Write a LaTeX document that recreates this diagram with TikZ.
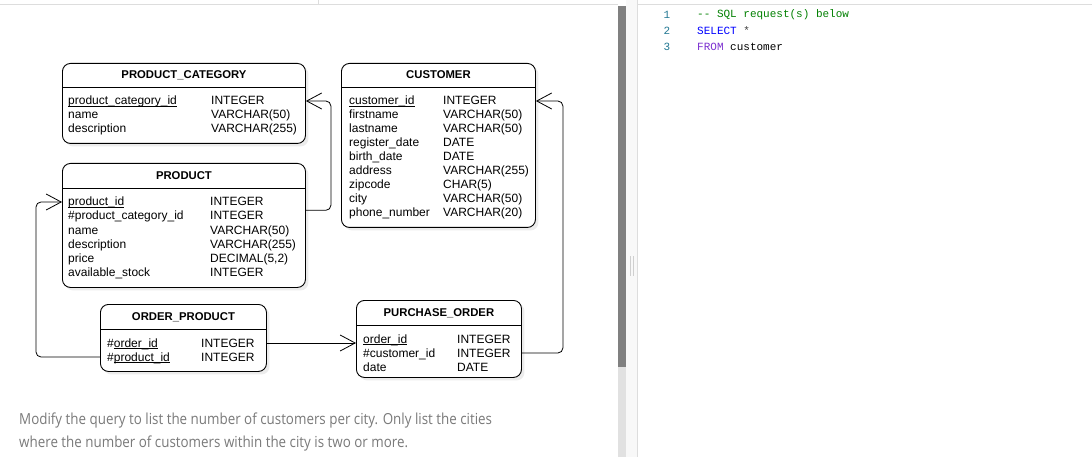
\documentclass[tikz,border=0pt]{standalone}
\usepackage{fontspec}
\setmainfont{Liberation Sans}
\setmonofont{Liberation Mono}
\newfontfamily\opensans[FakeStretch=0.88]{Open Sans}
\usepackage{xcolor}
\usetikzlibrary{arrows.meta,positioning,shadows}

\definecolor{rulegray}{HTML}{DDDDDD}
\definecolor{bardark}{HTML}{808080}
\definecolor{barlight}{HTML}{E1E1E1}
\definecolor{panelgray}{HTML}{F8F8F8}
\definecolor{gripgray}{HTML}{CFCFCF}
\definecolor{sqlcomment}{HTML}{008000}
\definecolor{sqlkw}{HTML}{0000FF}
\definecolor{sqlfrom}{HTML}{7B2FD0}
\definecolor{linenum}{HTML}{237893}
\definecolor{prompttext}{HTML}{7A7A7A}

% key underline close to the baseline
\newcommand\keyul[1]{\setbox0\hbox{#1}\rlap{\rule[-1.7pt]{\wd0}{0.7pt}}\box0}

\begin{document}
\begin{tikzpicture}[
  x=1pt, y=-1pt,
  tbl/.style={draw=black, line width=0.9pt, rounded corners=8pt, fill=white,
              anchor=north west, inner sep=0pt,
              drop shadow={shadow xshift=3pt, shadow yshift=-3pt, opacity=0.15}},
  ttl/.style={font=\fontsize{11.3}{13}\selectfont\bfseries, inner sep=0pt},
  fld/.style={font=\fontsize{12}{14}\selectfont, anchor=west, inner sep=0pt,
              text height=9.5pt, text depth=1.5pt},
  hdr/.style={line width=0.8pt},
  fk/.style={-{Straight Barb[length=15pt,width=16pt]}, line width=0.8pt,
             rounded corners=5pt},
  code/.style={font=\fontsize{11}{13}\selectfont\ttfamily, anchor=west, inner sep=0pt},
  lnum/.style={font=\fontsize{11}{13}\selectfont\ttfamily, text=linenum, inner sep=0pt},
  prompt/.style={font=\opensans\fontsize{15.2}{18}\selectfont, text=prompttext,
                 anchor=west, inner sep=0pt, text height=11pt, text depth=3pt}
]
\useasboundingbox[fill=white] (0,0) rectangle (1092,457);

% window chrome
\draw[rulegray, line width=1pt] (0,5) -- (618,5);
\draw[rulegray, line width=1pt] (637,5) -- (1092,5);
\draw[rulegray, line width=0.8pt] (318,0) -- (318,5);
\fill[bardark] (618,6) rectangle (626,367);
\fill[barlight] (618,367) rectangle (626,457);
\fill[panelgray] (626,0) rectangle (637,457);
\draw[rulegray, line width=0.6pt] (637,0) -- (637,457);
\draw[gripgray, line width=0.6pt] (630,256) -- (630,276);
\draw[gripgray, line width=0.6pt] (633,256) -- (633,276);

% sql editor
\node[lnum] (ln1) at (667,15) {1};
\node[lnum] (ln2) at (667,31) {2};
\node[lnum] (ln3) at (667,47) {3};
\node[code, text=sqlcomment] (sql1) at (697,15) {-{}- SQL request(s) below};
\node[code] (sql2) at (697,31) {\textcolor{sqlkw}{SELECT} \textcolor{black!75}{*}};
\node[code] (sql3) at (697,47) {\textcolor{sqlfrom}{FROM} customer};

% PRODUCT_CATEGORY
\node[tbl, minimum width=243pt, minimum height=80pt] (pcat) at (62,63) {};
\node[ttl] (pcat-t) at (pcat.north |- 0,75) {PRODUCT\_CATEGORY};
\draw[hdr] (pcat.west |- 0,87) -- (pcat.east |- 0,87);
\foreach \n/\t [count=\i] in {\keyul{product\_category\_id}/INTEGER,
    name/VARCHAR(50), description/VARCHAR(255)}
  {\node[fld] (pc-n\i) at (68,87+14*\i) {\n};
   \node[fld] (pc-t\i) at (211,87+14*\i) {\t};}

% CUSTOMER
\node[tbl, minimum width=194pt, minimum height=164pt] (cust) at (341,63) {};
\node[ttl] (cust-t) at (cust.north |- 0,75) {CUSTOMER};
\draw[hdr] (cust.west |- 0,87) -- (cust.east |- 0,87);
\foreach \n/\t [count=\i] in {\keyul{customer\_id}/INTEGER,
    firstname/VARCHAR(50), lastname/VARCHAR(50), register\_date/DATE,
    birth\_date/DATE, address/VARCHAR(255), zipcode/CHAR(5),
    city/VARCHAR(50), phone\_number/VARCHAR(20)}
  {\node[fld] (cu-n\i) at (349,87+14*\i) {\n};
   \node[fld] (cu-t\i) at (443,87+14*\i) {\t};}

% PRODUCT
\node[tbl, minimum width=243pt, minimum height=124pt] (prod) at (62,163) {};
\node[ttl] (prod-t) at (prod.north |- 0,176) {PRODUCT};
\draw[hdr] (prod.west |- 0,188) -- (prod.east |- 0,188);
\foreach \n/\t [count=\i] in {\keyul{product\_id}/INTEGER,
    \#product\_category\_id/INTEGER, name/VARCHAR(50),
    description/VARCHAR(255), price/{DECIMAL(5,2)}, available\_stock/INTEGER}
  {\node[fld] (pr-n\i) at (68,188+14*\i) {\n};
   \node[fld] (pr-t\i) at (210,188+14*\i) {\t};}

% ORDER_PRODUCT
\node[tbl, minimum width=166pt, minimum height=67pt] (op) at (100,304) {};
\node[ttl] (op-t) at (op.north |- 0,317) {ORDER\_PRODUCT};
\draw[hdr] (op.west |- 0,329) -- (op.east |- 0,329);
\foreach \n/\t [count=\i] in {\#\keyul{order\_id}/INTEGER,
    \#\keyul{product\_id}/INTEGER}
  {\node[fld] (op-n\i) at (107,329+14*\i) {\n};
   \node[fld] (op-t\i) at (201,329+14*\i) {\t};}

% PURCHASE_ORDER
\node[tbl, minimum width=165pt, minimum height=77pt] (po) at (356,300) {};
\node[ttl] (po-t) at (po.north |- 0,313) {PURCHASE\_ORDER};
\draw[hdr] (po.west |- 0,325) -- (po.east |- 0,325);
\foreach \n/\t [count=\i] in {\keyul{order\_id}/INTEGER,
    \#customer\_id/INTEGER, date/DATE}
  {\node[fld] (po-n\i) at (363,325+14*\i) {\n};
   \node[fld] (po-t\i) at (457,325+14*\i) {\t};}

% foreign keys
\draw[fk] (prod.east |- pr-n2.north) -- ++(25,0) |- (pcat.east |- pc-n1);
\draw[fk] (po.east |- po-n2) -- ++(41,0) |- (cust.east |- cu-n1);
\draw[fk] (op.east |- op-n1) -- (po.west |- op-n1);
\draw[fk] (op.west |- op-n2) -- ++(-64,0) |- (prod.west |- pr-n1);

% task text
\node[prompt] (task-a) at (19,420)
  {Modify the query to list the number of customers per city. Only list the cities};
\node[prompt] (task-b) at (19,443)
  {where the number of customers within the city is two or more.};
\end{tikzpicture}
\end{document}
